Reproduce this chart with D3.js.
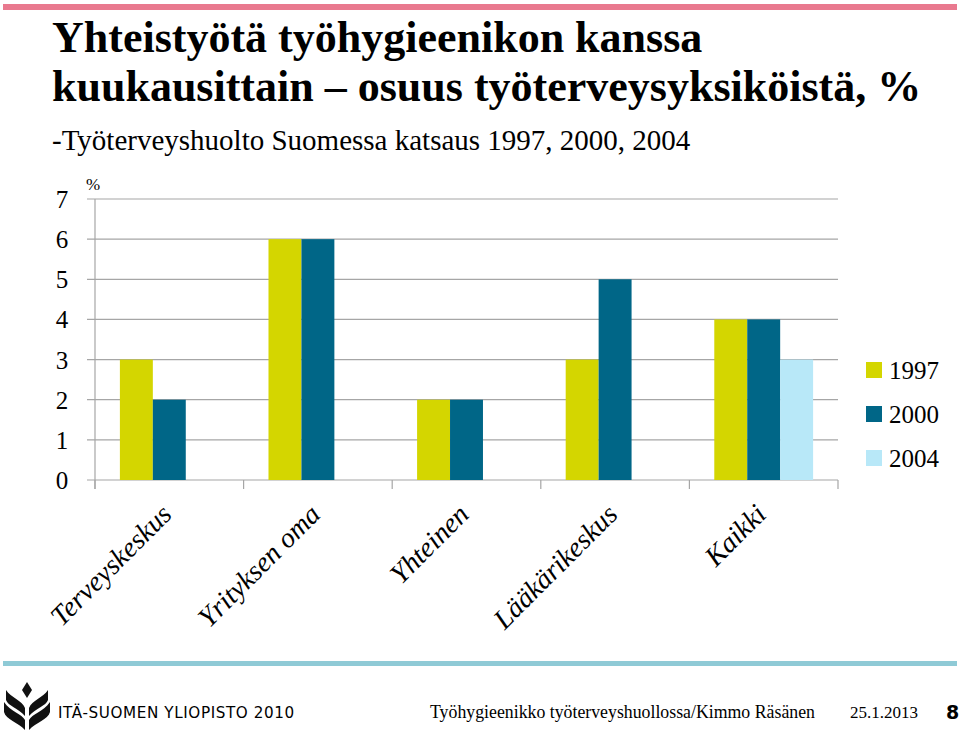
<!DOCTYPE html>
<html><head><meta charset="utf-8">
<script src="https://cdn.jsdelivr.net/npm/d3@7"></script>
<style>body{margin:0;background:#fff}svg{display:block}</style>
</head><body>
<script>
const categories = ["Terveyskeskus","Yrityksen oma","Yhteinen","Lääkärikeskus","Kaikki"];
const seriesNames = ["1997","2000","2004"];
const values1997 = [3,6,2,3,4];
const values2000 = [2,6,2,5,4];
const values2004 = [0,0,0,0,3];
const yTicks = [0,1,2,3,4,5,6,7];
const colors = ["#d4d600","#006687","#b8e8f8"];

const W=960,H=730;
const svg=d3.select("body").append("svg").attr("width",W).attr("height",H);
const serif="'Liberation Serif','DejaVu Serif',serif";

// top bar
svg.append("rect").attr("x",3).attr("y",4).attr("width",954).attr("height",6).attr("fill","#e9798f");
// title
const t=svg.append("text").attr("font-family",serif).attr("font-weight","bold").attr("font-size",44).attr("fill","#000");
t.append("tspan").attr("x",52).attr("y",52).text("Yhteistyötä työhygieenikon kanssa");
t.append("tspan").attr("x",52).attr("y",101).text("kuukausittain – osuus työterveysyksiköistä, %");
svg.append("text").attr("x",52).attr("y",150).attr("font-family",serif).attr("font-size",29)
  .text("-Työterveyshuolto Suomessa katsaus 1997, 2000, 2004");

const m={l:95,r:838,t:199,b:480};
const x=d3.scaleBand().domain(categories).range([m.l,m.r]).paddingInner(0.335).paddingOuter(0.1675);
const xs=d3.scaleBand().domain(seriesNames).range([0,x.bandwidth()]);
const y=d3.scaleLinear().domain([0,7]).range([m.b,m.t]);

// grid
svg.append("g").selectAll("line").data(yTicks).join("line")
  .attr("x1",m.l-8).attr("x2",m.r).attr("y1",d=>y(d)).attr("y2",d=>y(d))
  .attr("stroke","#a6a6a6").attr("stroke-width",1.2);
// y axis line
svg.append("line").attr("x1",m.l).attr("x2",m.l).attr("y1",m.t).attr("y2",m.b+9).attr("stroke","#a6a6a6").attr("stroke-width",1.2);
// category ticks
const step=(m.r-m.l)/categories.length;
svg.append("g").selectAll("line").data(d3.range(categories.length+1)).join("line")
  .attr("x1",d=>m.l+d*step).attr("x2",d=>m.l+d*step).attr("y1",m.b).attr("y2",m.b+9)
  .attr("stroke","#a6a6a6").attr("stroke-width",1.2);

// y labels
svg.append("g").selectAll("text").data(yTicks).join("text")
  .attr("x",62).attr("y",d=>y(d)+9).attr("text-anchor","middle")
  .attr("font-family",serif).attr("font-size",25).text(d=>d);
svg.append("text").attr("x",86).attr("y",190).attr("font-family",serif).attr("font-size",17).text("%");

// bars
const series=[values1997,values2000,values2004];
series.forEach((vals,si)=>{
  svg.append("g").selectAll("rect").data(vals).join("rect")
    .attr("x",(d,i)=>x(categories[i])+xs(seriesNames[si]))
    .attr("width",xs.bandwidth())
    .attr("y",d=>y(d)).attr("height",d=>y(0)-y(d))
    .attr("fill",colors[si]);
});

// category labels
svg.append("g").selectAll("text").data(categories).join("text")
  .attr("transform",d=>`translate(${x(d)+x.bandwidth()/2+4},${m.b+36}) rotate(-45)`)
  .attr("text-anchor","end").attr("font-family",serif).attr("font-style","italic").attr("font-size",28)
  .text(d=>d);

// legend
const lg=svg.append("g");
seriesNames.forEach((s,i)=>{
  const yy=370+i*44;
  lg.append("rect").attr("x",866).attr("y",yy-8).attr("width",16).attr("height",16).attr("fill",colors[i]);
  lg.append("text").attr("x",889).attr("y",yy+9).attr("font-family",serif).attr("font-size",25).text(s);
});

// footer line
svg.append("rect").attr("x",3).attr("y",661).attr("width",954).attr("height",5).attr("fill","#8fcad6");
// logo (simple)
const lo=svg.append("g").attr("fill","#111");
lo.append("path").attr("d","M27,682 L32,690 L27,698 L22,690 Z");
lo.append("path").attr("d","M6,690 C11,698 22,700 25,708 L25,716 C18,708 8,706 6,700 Z");
lo.append("path").attr("d","M48,690 C43,698 32,700 29,708 L29,716 C36,708 46,706 48,700 Z");
lo.append("path").attr("d","M4,702 C11,712 22,714 25,720 L25,730 C18,722 6,720 4,712 Z");
lo.append("path").attr("d","M50,702 C43,712 32,714 29,720 L29,730 C36,722 48,720 50,712 Z");
svg.append("text").attr("x",58).attr("y",718).attr("font-family","'DejaVu Sans',sans-serif").attr("font-size",15.2)
  .attr("letter-spacing",0.6).text("ITÄ-SUOMEN YLIOPISTO 2010");
svg.append("text").attr("x",430).attr("y",718).attr("font-family",serif).attr("font-size",17.8)
  .text("Työhygieenikko työterveyshuollossa/Kimmo Räsänen");
svg.append("text").attr("x",850).attr("y",718).attr("font-family",serif).attr("font-size",17).text("25.1.2013");
svg.append("text").attr("x",946).attr("y",719).attr("font-family","'DejaVu Sans',sans-serif").attr("font-weight","bold").attr("font-size",19).text("8");
</script>
</body></html>
